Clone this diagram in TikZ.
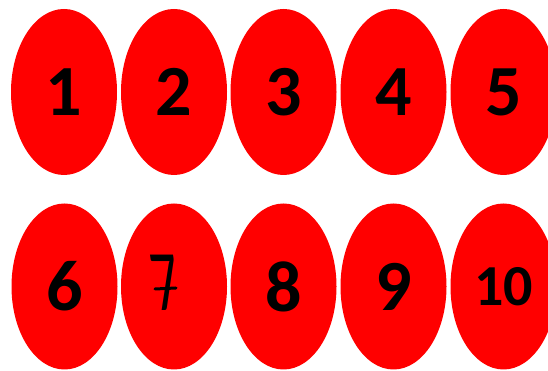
\documentclass[tikz,border=0pt]{standalone}
\usepackage{fontspec}
\setmainfont{Carlito}
\usetikzlibrary{shapes.geometric}
\definecolor{eggred}{HTML}{FF0000}
\begin{document}
\begin{tikzpicture}[x=1pt,y=1pt,
  egg/.style={ellipse,fill=eggred,draw=none,minimum width=106pt,minimum height=166pt,inner sep=0pt,
    font=\fontsize{72}{72}\selectfont\bfseries},
  eggsmall/.style={egg,font=\fontsize{58}{58}\selectfont\bfseries}]
\useasboundingbox (0,0) rectangle (548,371);
% top row
\node[egg] (e1) at (64,279) {1};
\node[egg] (e2) at (174,279) {2};
\node[egg] (e3) at (283.5,279) {3};
\node[egg] (e4) at (393.5,279) {4};
\node[egg] (e5) at (503.5,279) {5};
% bottom row
\node[egg] (e6) at (64.5,84.5) {6};
\node[egg] (e7) at (174,84.5) {};
\node[egg] (e8) at (283.5,84.5) {8};
\node[egg] (e9) at (393.5,84.5) {9};
\node[eggsmall] (e10) at (503.5,84.5) {10};
% hand-written seven
\node[font=\fontsize{72}{72}\selectfont, xscale=0.75, yscale=1.2, xslant=-0.25, inner sep=0pt] (t7) at (166,88) {7};
\draw[line width=3pt, line cap=round] ([xshift=-11pt,yshift=-6pt]t7.center) -- ([xshift=10pt,yshift=-5pt]t7.center);
\end{tikzpicture}
\end{document}
